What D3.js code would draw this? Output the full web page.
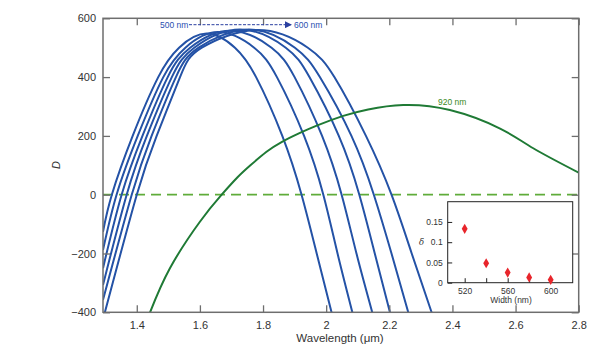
<!DOCTYPE html>
<html>
<head>
<meta charset="utf-8">
<script src="https://cdn.jsdelivr.net/npm/d3@7"></script>
<style>
  html, body { margin: 0; padding: 0; background: #fff; }
  svg { display: block; font-family: "Liberation Sans", Arial, Helvetica, sans-serif; }
</style>
</head>
<body>
<svg id="chart" width="599" height="352"></svg>
<script>
// ---------- DATA ----------
const widths = [500, 520, 540, 560, 580, 600];

const wl500 = [1.293, 1.321, 1.387, 1.468, 1.534, 1.621, 1.711, 1.778, 1.861, 1.922, 1.970, 2.017];
const d500  = [-126, 0, 200, 400, 500, 548, 500, 400, 200, 0, -200, -400];

const wl520 = [1.293, 1.336, 1.403, 1.484, 1.554, 1.657, 1.772, 1.844, 1.930, 1.991, 2.036, 2.083];
const d520  = [-188, 0, 200, 400, 500, 553, 500, 400, 200, 0, -200, -400];

const wl540 = [1.293, 1.352, 1.418, 1.498, 1.569, 1.695, 1.827, 1.900, 1.987, 2.049, 2.096, 2.146];
const d540  = [-250, 0, 200, 400, 500, 558, 500, 400, 200, 0, -200, -400];

const wl560 = [1.293, 1.368, 1.432, 1.511, 1.582, 1.727, 1.872, 1.947, 2.040, 2.105, 2.154, 2.202];
const d560  = [-307, 0, 200, 400, 500, 562, 500, 400, 200, 0, -200, -400];

const wl580 = [1.293, 1.384, 1.447, 1.524, 1.596, 1.755, 1.901, 1.980, 2.080, 2.151, 2.207, 2.260];
const d580  = [-358, 0, 200, 400, 500, 562, 500, 400, 200, 0, -200, -400];

const wl600 = [1.299, 1.400, 1.463, 1.537, 1.606, 1.784, 1.942, 2.026, 2.126, 2.207, 2.271, 2.334];
const d600  = [-400, 0, 200, 400, 500, 560, 500, 400, 200, 0, -200, -400];

const wl920 = [1.442, 1.505, 1.600, 1.669, 1.720, 1.760, 1.810, 1.860, 1.917, 1.970, 2.054, 2.133, 2.244, 2.392, 2.551, 2.656, 2.800];
const d920  = [-400, -250, -92, 0, 60, 100, 145, 180, 210, 235, 268, 290, 305, 288, 225, 158, 75];

const xTicks = [1.4, 1.6, 1.8, 2.0, 2.2, 2.4, 2.6, 2.8];
const xTickLabels = ["1.4", "1.6", "1.8", "2", "2.2", "2.4", "2.6", "2.8"];
const yTicks = [-400, -200, 0, 200, 400, 600];
const yTickLabels = ["\u2212400", "\u2212200", "0", "200", "400", "600"];

// inset
const insetWidths = [520, 540, 560, 580, 600];
const insetDelta  = [0.133, 0.048, 0.025, 0.013, 0.007];
const insetXTicks = [520, 540, 560, 580, 600];
const insetXTickLabels = ["520", "", "560", "", "600"];
const insetYTicks = [0, 0.05, 0.1, 0.15];
const insetYTickLabels = ["0", "0.05", "0.1", "0.15"];

// ---------- CHART ----------
const svg = d3.select("#chart");
const L = 103, R = 578.7, T = 18.3, B = 312.3;
const x = d3.scaleLinear().domain([1.293, 2.8]).range([L, R]);
const y = d3.scaleLinear().domain([-400, 600]).range([B, T]);

const frameColor = "#6e6e6e";
const textColor = "#333";
const blue = "#2452a6";
const green = "#1f7a35";

svg.append("defs").append("clipPath").attr("id", "plotclip")
  .append("rect").attr("x", L).attr("y", T).attr("width", R - L).attr("height", B - T);

const plot = svg.append("g").attr("clip-path", "url(#plotclip)");

// zero dashed line
plot.append("line")
  .attr("x1", L).attr("x2", R).attr("y1", y(0)).attr("y2", y(0))
  .attr("stroke", "#5fac3a").attr("stroke-width", 1.8).attr("stroke-dasharray", "10,6");

const line = d3.line().x(d => x(d[0])).y(d => y(d[1])).curve(d3.curveNatural);

const blueSeries = [[wl500, d500], [wl520, d520], [wl540, d540], [wl560, d560], [wl580, d580], [wl600, d600]];
blueSeries.forEach(([wl, dv]) => {
  plot.append("path")
    .datum(d3.zip(wl, dv))
    .attr("d", line)
    .attr("fill", "none").attr("stroke", blue).attr("stroke-width", 2);
});

plot.append("path")
  .datum(d3.zip(wl920, d920))
  .attr("d", line)
  .attr("fill", "none").attr("stroke", green).attr("stroke-width", 2);

// axes
const styleAxis = g => {
  g.select(".domain").remove();
  g.selectAll(".tick line").attr("stroke", frameColor).attr("stroke-width", 1.3);
  g.selectAll(".tick text").attr("fill", textColor).attr("font-size", 11);
};

svg.append("g").attr("transform", `translate(0,${B})`)
  .call(d3.axisBottom(x).tickValues(xTicks).tickSize(-7).tickPadding(9)
    .tickFormat((d, i) => xTickLabels[i]))
  .call(styleAxis);

svg.append("g").attr("transform", `translate(0,${T})`)
  .call(d3.axisTop(x).tickValues(xTicks).tickSize(-7).tickFormat(""))
  .call(styleAxis);

svg.append("g").attr("transform", `translate(${L},0)`)
  .call(d3.axisLeft(y).tickValues(yTicks).tickSize(-7).tickPadding(7)
    .tickFormat((d, i) => yTickLabels[i]))
  .call(styleAxis);

svg.append("g").attr("transform", `translate(${R},0)`)
  .call(d3.axisRight(y).tickValues(yTicks).tickSize(-7).tickFormat(""))
  .call(styleAxis);

// frame
svg.append("rect").attr("x", L).attr("y", T).attr("width", R - L).attr("height", B - T)
  .attr("fill", "none").attr("stroke", frameColor).attr("stroke-width", 1.5);

// axis titles
svg.append("text").attr("x", 340).attr("y", 342).attr("text-anchor", "middle")
  .attr("fill", textColor).attr("font-size", 11.5).text("Wavelength (\u03bcm)");
svg.append("text").attr("transform", "translate(60,165) rotate(-90)").attr("text-anchor", "middle")
  .attr("fill", textColor).attr("font-size", 11).attr("font-style", "italic").text("D");

// annotations
svg.append("defs").append("marker").attr("id", "arrowhead")
  .attr("viewBox", "0 0 10 10").attr("refX", 10).attr("refY", 5)
  .attr("markerWidth", 9).attr("markerHeight", 7).attr("markerUnits", "userSpaceOnUse")
  .attr("orient", "auto")
  .append("path").attr("d", "M0,0 L10,5 L0,10 z").attr("fill", "#2a3fa0");

svg.append("text").attr("x", 160).attr("y", 27.7).attr("fill", "#2a4fb0").attr("font-size", 8.5).text("500 nm");
svg.append("line").attr("x1", 189).attr("x2", 292).attr("y1", 24.7).attr("y2", 24.7)
  .attr("stroke", "#2a3fa0").attr("stroke-width", 1).attr("stroke-dasharray", "3,1.5")
  .attr("marker-end", "url(#arrowhead)");
svg.append("text").attr("x", 294).attr("y", 27.7).attr("fill", "#2a4fb0").attr("font-size", 8.5).text("600 nm");

svg.append("text").attr("x", 438).attr("y", 104.5).attr("fill", "#3c8a1e").attr("font-size", 8.5).text("920 nm");

// ---------- INSET ----------
const iL = 447.7, iR = 572.7, iT = 201.7, iB = 282.7;
const ix = d3.scaleLinear().domain([504.2, 620.5]).range([iL, iR]);
const iy = d3.scaleLinear().domain([0, 0.2]).range([iB, iT]);

svg.append("rect").attr("x", iL).attr("y", iT).attr("width", iR - iL).attr("height", iB - iT)
  .attr("fill", "#fff");

const styleInset = g => {
  g.select(".domain").remove();
  g.selectAll(".tick line").attr("stroke", "#222").attr("stroke-width", 1);
  g.selectAll(".tick text").attr("fill", textColor).attr("font-size", 8.5);
};

svg.append("g").attr("transform", `translate(0,${iB})`)
  .call(d3.axisBottom(ix).tickValues(insetXTicks).tickSize(-4.5).tickPadding(5)
    .tickFormat((d, i) => insetXTickLabels[i]))
  .call(styleInset);

svg.append("g").attr("transform", `translate(${iL},0)`)
  .call(d3.axisLeft(iy).tickValues(insetYTicks).tickSize(-4.5).tickPadding(5)
    .tickFormat((d, i) => insetYTickLabels[i]))
  .call(styleInset);

svg.append("rect").attr("x", iL).attr("y", iT).attr("width", iR - iL).attr("height", iB - iT)
  .attr("fill", "none").attr("stroke", "#222").attr("stroke-width", 1);

svg.append("g").selectAll("path")
  .data(d3.zip(insetWidths, insetDelta))
  .join("path")
  .attr("transform", d => `translate(${ix(d[0])},${iy(d[1])})`)
  .attr("d", d3.symbol().type(d3.symbolDiamond).size(30))
  .attr("fill", "#e8252b");

svg.append("text").attr("x", 511).attr("y", 303).attr("text-anchor", "middle")
  .attr("fill", textColor).attr("font-size", 8.5).text("Width (nm)");
svg.append("text").attr("x", 421.5).attr("y", 245).attr("text-anchor", "middle")
  .attr("fill", textColor).attr("font-size", 8.5).attr("font-style", "italic")
  .attr("font-family", "'DejaVu Serif', 'Liberation Serif', serif").text("\u03b4");
</script>
</body>
</html>
